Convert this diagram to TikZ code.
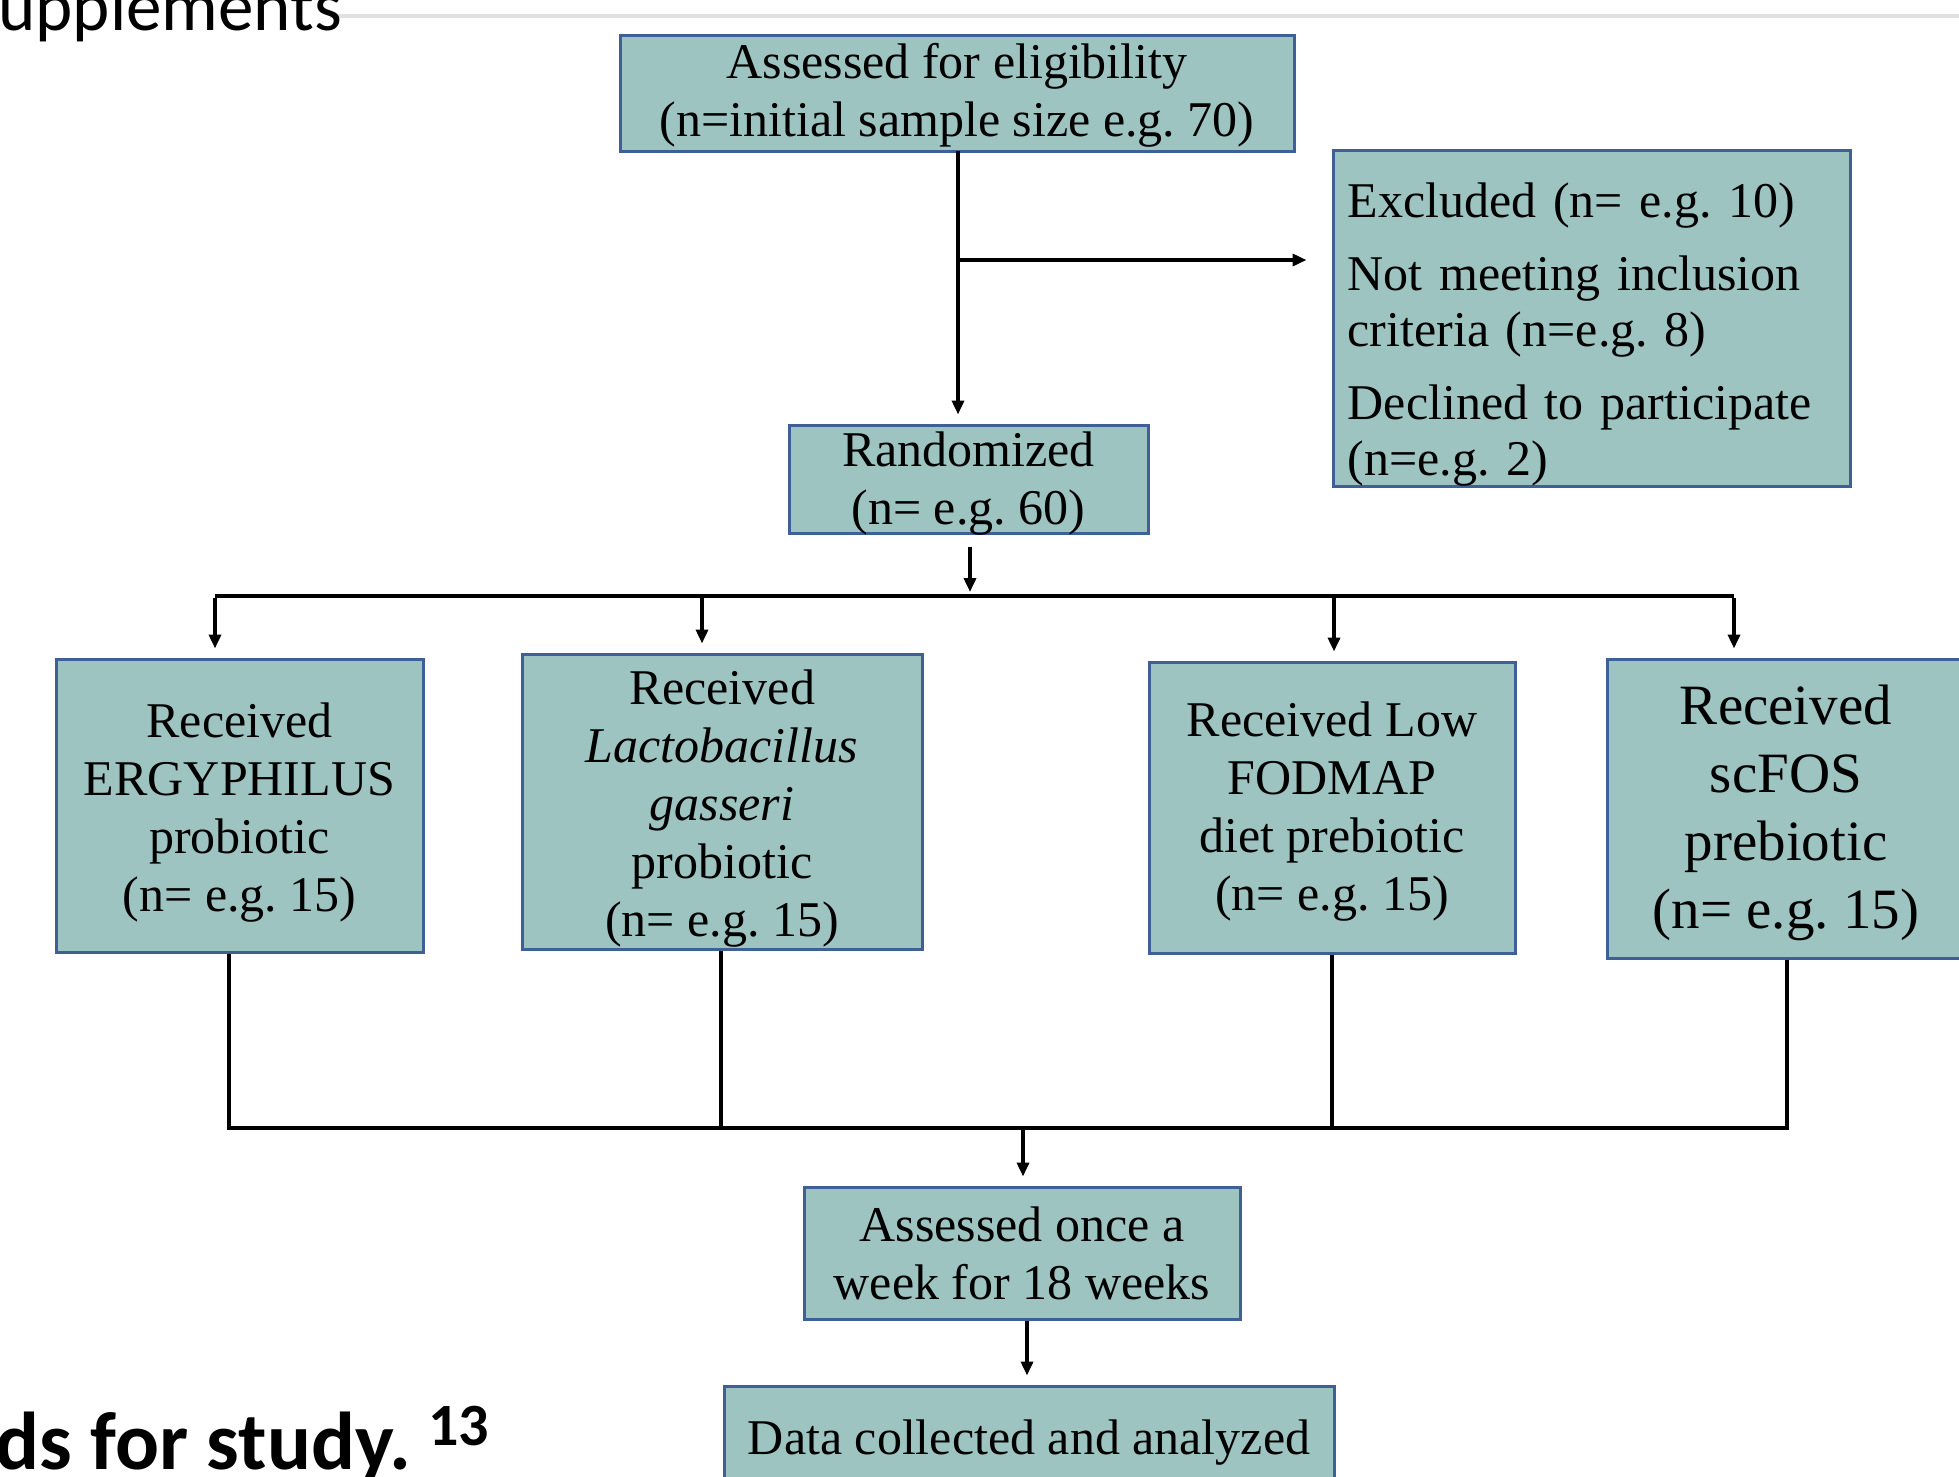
\documentclass[tikz,border=0pt]{standalone}
\usepackage{fontspec}
\setmainfont{Liberation Serif}
\newfontfamily\calibri{Carlito}
\usetikzlibrary{arrows.meta}
\definecolor{boxfill}{RGB}{157,196,193}
\definecolor{boxline}{RGB}{62,96,150}
\definecolor{rulegray}{RGB}{224,224,224}
\frenchspacing
\begin{document}
\begin{tikzpicture}[x=1pt,y=-1pt,
  box/.style={draw=boxline, fill=boxfill, line width=3pt, inner sep=0pt},
  boxtext/.style={inner sep=0pt, align=center, font=\fontsize{50}{58}\selectfont},
  bigtext/.style={boxtext, font=\fontsize{57}{68}\selectfont},
  conn/.style={line width=3.5pt, black},
  arr/.style={conn, -{Triangle[length=14pt,width=12pt]}},
  shortarr/.style={arr, shorten >=9pt}]
\useasboundingbox (0,0) rectangle (1959,1476);

% header remnants
\coordinate (gl) at (330,16);
\coordinate (gr) at (1959,16);
\draw[rulegray, line width=3.5pt] (gl) -- (gr);
\node[anchor=base west, inner sep=0pt, font=\calibri\fontsize{71}{71}\selectfont] (hdr) at (-2,30) {upplements};
\node[anchor=base east, inner sep=0pt, font=\calibri\bfseries\fontsize{82}{82}\selectfont] (cap) at (411,1469) {ds for study.};
\node[anchor=base west, inner sep=0pt, font=\calibri\bfseries\fontsize{60}{60}\selectfont] (capsup) at (428,1445) {13};

% boxes
\node[box, minimum width=674pt, minimum height=116pt] (top) at (957,93) {};
\node[boxtext] (toptxt) at ([yshift=-2.5pt]top.center)
  {Assessed for eligibility\\(n=initial sample size e.g. 70)};

\node[box, minimum width=517pt, minimum height=336pt] (excl) at (1591.5,318) {};
\node[anchor=north west, inner sep=0pt, align=left, text width=485pt,
      font=\fontsize{50}{56.5}\selectfont]
  (excltxt) at ([xshift=16pt,yshift=-26pt]excl.north west)
  {\rule{0pt}{0.86em}Excluded (n= e.g. 10)\\[16pt]Not meeting inclusion\\criteria (n=e.g. 8)\\[16pt]Declined to participate\\(n=e.g. 2)};

\node[box, minimum width=359pt, minimum height=108pt] (rand) at (968.5,479) {};
\node[boxtext] (randtxt) at ([yshift=-5pt]rand.center) {Randomized\\(n= e.g. 60)};

\node[box, minimum width=367pt, minimum height=293pt] (b1) at (239.5,805.5) {};
\node[boxtext] (b1txt) at ([yshift=-7.5pt]b1.center)
  {Received\\ERGYPHILUS\\probiotic\\(n= e.g. 15)};

\node[box, minimum width=400pt, minimum height=295pt] (b2) at (722,801.5) {};
\node[boxtext] (b2txt) at ([yshift=-7.5pt]b2.center)
  {Received\\\textit{Lactobacillus}\\\textit{gasseri}\\probiotic\\(n= e.g. 15)};

\node[box, minimum width=366pt, minimum height=291pt] (b3) at (1332,807.5) {};
\node[boxtext] (b3txt) at ([yshift=-4pt]b3.center)
  {Received Low\\FODMAP\\diet prebiotic\\(n= e.g. 15)};

\node[box, minimum width=358pt, minimum height=299pt] (b4) at (1786,808.5) {};
\node[bigtext] (b4txt) at ([yshift=-4pt]b4.center)
  {Received\\scFOS\\prebiotic\\(n= e.g. 15)};

\node[box, minimum width=436pt, minimum height=132pt] (once) at (1022,1253) {};
\node[boxtext] (oncetxt) at (once.center) {Assessed once a\\week for 18 weeks};

\node[box, minimum width=610pt, minimum height=104pt] (data) at (1029,1438) {};
\node[boxtext] (datatxt) at ([yshift=-5pt]data.center) {Data collected and analyzed};

% top to randomized, with exclusion branch
\coordinate (tdown) at (958,151);
\coordinate (branch) at (958,260);
\draw[shortarr] (tdown) -- (tdown |- rand.north);
\draw[arr, shorten >=25pt] (branch) -- (branch -| excl.west);

% randomized to the four arms
\coordinate (rsplit) at (970,596);
\coordinate (hl) at (215,596);
\coordinate (hr) at (1734,596);
\coordinate (h2) at (702,596);
\coordinate (h3) at (1334,596);
\draw[arr, shorten <=12pt, shorten >=4pt] (rsplit |- rand.south) -- (rsplit);
\draw[conn] (hl) -- (hr);
\draw[shortarr] ([yshift=-1.75pt]hl) -- (hl |- b1.north);
\draw[shortarr] (h2) -- (h2 |- b2.north);
\draw[shortarr] (h3) -- (h3 |- b3.north);
\draw[shortarr] ([yshift=-1.75pt]hr) -- (hr |- b4.north);

% arms merge
\coordinate (m1) at (229,1128);
\coordinate (m2) at (721,1128);
\coordinate (m3) at (1332,1128);
\coordinate (m4) at (1787,1128);
\coordinate (mc) at (1023,1128);
\draw[conn] (m1 |- b1.south) -- (m1);
\draw[conn] (m2 |- b2.south) -- (m2);
\draw[conn] (m3 |- b3.south) -- (m3);
\draw[conn] (m4 |- b4.south) -- (m4);
\draw[conn] ([xshift=-1.75pt]m1) -- ([xshift=1.75pt]m4);
\draw[shortarr] (mc) -- (mc |- once.north);

\coordinate (od) at (1027,1319);
\draw[shortarr] (od |- once.south) -- (od |- data.north);
\end{tikzpicture}
\end{document}
